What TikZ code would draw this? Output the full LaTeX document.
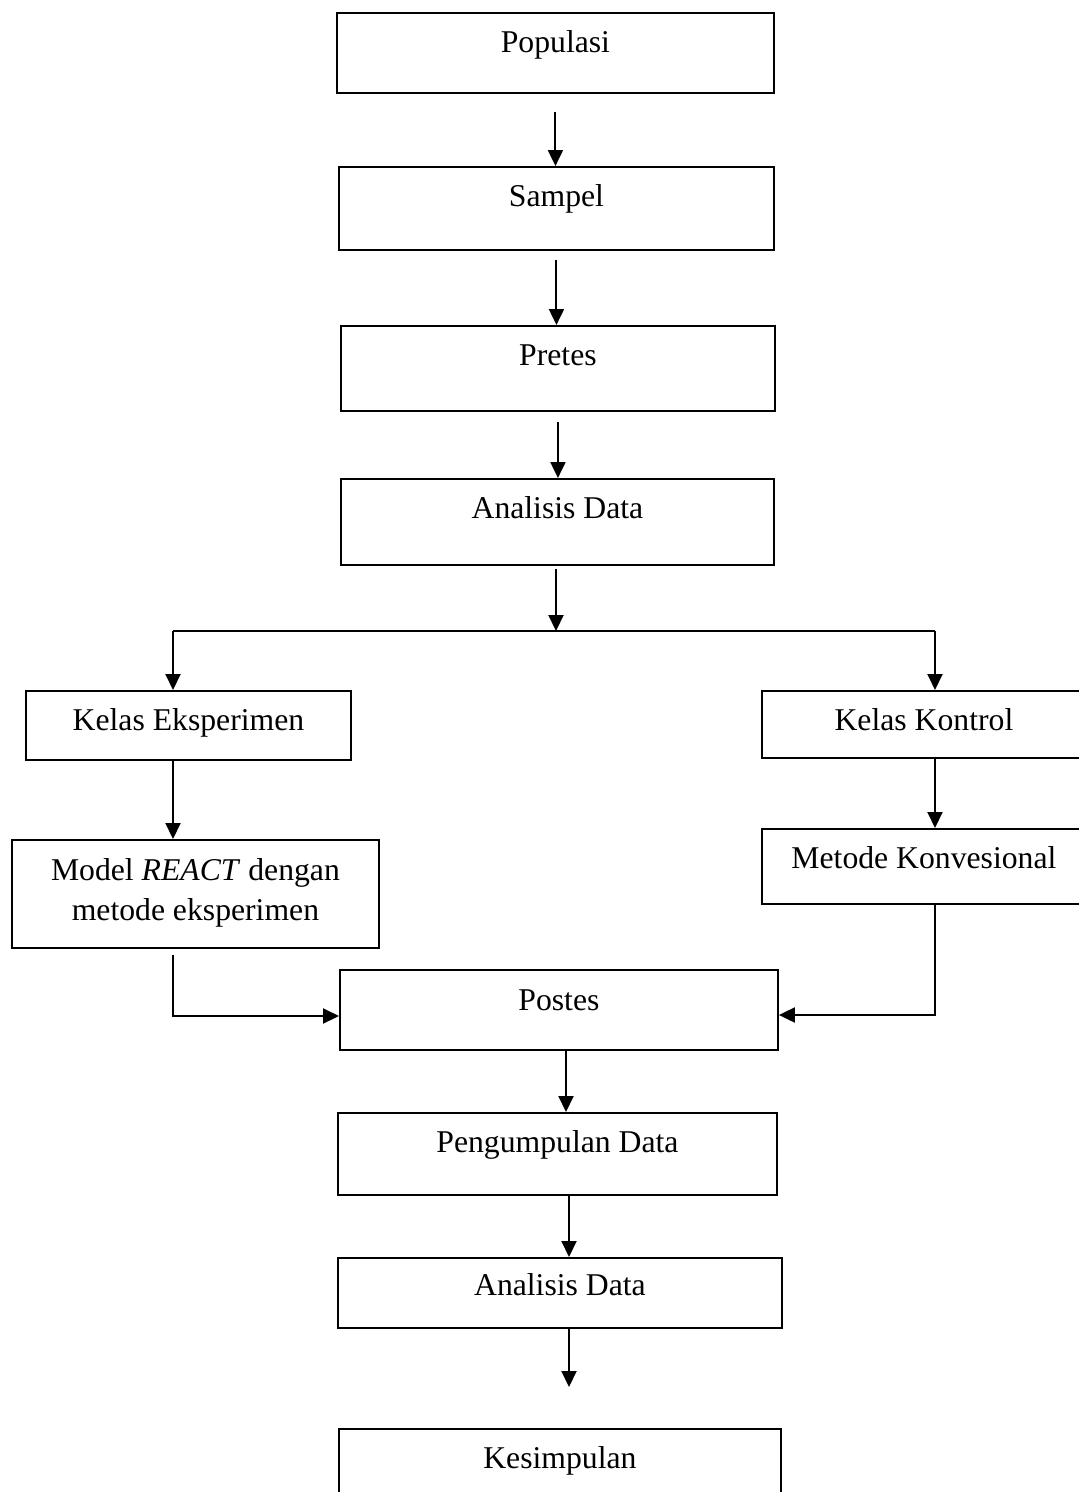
\documentclass[tikz,border=0pt]{standalone}
\usepackage{fontspec}
\setmainfont{Liberation Serif}
\usetikzlibrary{arrows.meta}
\begin{document}
\begin{tikzpicture}[x=1pt,y=-1pt,
  box/.style={draw, line width=1.9pt, anchor=north west, inner xsep=0pt, inner ysep=0pt,
    font=\fontsize{31.7}{40}\selectfont, align=center},
  conn/.style={line width=2pt},
  arr/.style={conn, -{Triangle[length=16pt,width=15pt]}}]
\useasboundingbox (0,0) rectangle (1079,1492);
\fill[white] (0,0) rectangle (1079,1492);
\clip (0,0) rectangle (1079,1492);

\node[box, minimum width=437pt, text height=40pt, text depth=40pt] (pop) at (336,12) {Populasi};
\node[box, minimum width=435pt, text height=40pt, text depth=43pt] (sam) at (338,166) {Sampel};
\node[box, minimum width=434pt, text height=40pt, text depth=45pt] (pre) at (340,325) {Pretes};
\node[box, minimum width=433pt, text height=40pt, text depth=46pt] (ad1) at (340,478) {Analisis Data};
\node[box, minimum width=325pt, text height=40pt, text depth=29pt] (ke) at (25,690) {Kelas Eksperimen};
\node[box, minimum width=324pt, text height=40pt, text depth=27pt] (kk) at (761,690) {Kelas Kontrol};
\node[box, minimum width=367pt, text height=41pt, text depth=67pt] (mod) at (11,839)
  {\begin{tabular}[t]{@{}c@{}}Model \textit{REACT} dengan\\metode eksperimen\end{tabular}};
\node[box, minimum width=324pt, text height=40pt, text depth=35pt] (mk) at (761,828) {Metode Konvesional};
\node[box, minimum width=438pt, text height=41pt, text depth=39pt] (pos) at (339,969) {Postes};
\node[box, minimum width=439pt, text height=40pt, text depth=42pt] (pd) at (337,1112) {Pengumpulan Data};
\node[box, minimum width=444pt, text height=38pt, text depth=32pt] (ad2) at (337,1257) {Analisis Data};
\node[box, minimum width=442pt, text height=40pt, text depth=42pt] (kes) at (338,1428) {Kesimpulan};

\coordinate (bm) at (556,631);
\coordinate (bl) at (173,631);
\coordinate (bR) at (935,631);
\coordinate (lj) at (173,1016);
\coordinate (rj) at (935,1015);
\coordinate (xa) at (566,0);
\coordinate (xb) at (569,0);

\draw[arr, shorten <=18pt] (pop.south) -- (pop.south |- sam.north);
\draw[arr, shorten <=9pt] (sam.south) -- (sam.south |- pre.north);
\draw[arr, shorten <=10pt] (pre.south) -- (pre.south |- ad1.north);
\draw[arr, shorten <=3pt] (bm |- ad1.south) -- (bm);
\draw[conn] (bl) -- (bR);
\draw[arr] (bl) -- (bl |- ke.north);
\draw[arr] (bR) -- (bR |- kk.north);
\draw[arr] (bl |- ke.south) -- (bl |- mod.north);
\draw[arr] (bR |- kk.south) -- (bR |- mk.north);
\draw[arr] ([yshift=-6pt]bl |- mod.south) -- (lj) -- (lj -| pos.west);
\draw[arr] (bR |- mk.south) -- (rj) -- (rj -| pos.east);
\draw[arr] (xa |- pos.south) -- (xa |- pd.north);
\draw[arr] (xb |- pd.south) -- (xb |- ad2.north);
\draw[arr, shorten >=41pt] (xb |- ad2.south) -- (xb |- kes.north);
\end{tikzpicture}
\end{document}
